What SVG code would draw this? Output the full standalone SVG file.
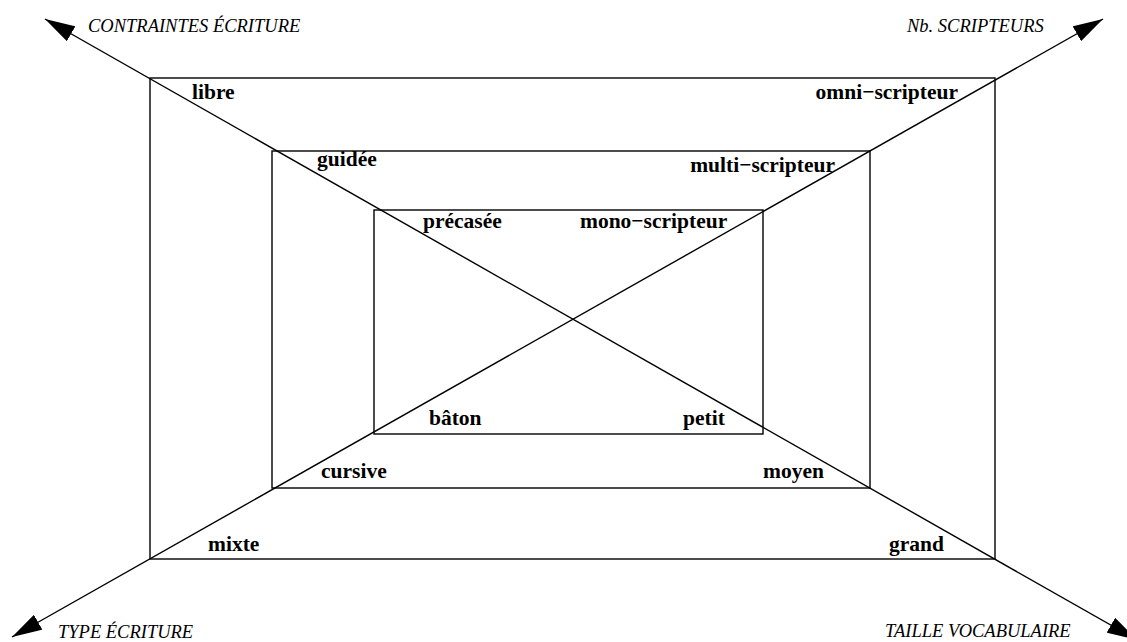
<svg xmlns="http://www.w3.org/2000/svg" width="1127" height="642" viewBox="0 0 1127 642">
<style>
.frame{fill:none;stroke:#000;stroke-width:1.4}
.axis{fill:none;stroke:#000;stroke-width:1.4}
.lbl{font-family:"Liberation Serif","Times New Roman",serif;font-weight:bold;font-size:21.5px;fill:#000}
.ax{font-family:"Liberation Serif","Times New Roman",serif;font-style:italic;font-size:18.5px;fill:#000}
</style>
<defs>
<marker id="arr" markerUnits="userSpaceOnUse" markerWidth="30" markerHeight="17" refX="30" refY="8.5" orient="auto-start-reverse" viewBox="0 0 30 17">
<path d="M0,0 L30,8.5 L0,17 z" fill="#000"/>
</marker>
</defs>
<rect width="1127" height="642" fill="#fff"/>
<g id="frames">
<rect id="outer" class="frame" x="150" y="78" width="845" height="481"/>
<rect id="middle" class="frame" x="272" y="151" width="598" height="337"/>
<rect id="inner" class="frame" x="374" y="210" width="389" height="224"/>
</g>
<g id="connectors">
<line class="axis" x1="45" y1="19" x2="1137" y2="640" marker-start="url(#arr)" marker-end="url(#arr)"/>
<line class="axis" x1="12" y1="637" x2="1103" y2="19" marker-start="url(#arr)" marker-end="url(#arr)"/>
</g>
<g id="axis-labels">
<text id="ax-contraintes" class="ax" x="88" y="32">CONTRAINTES ÉCRITURE</text>
<text id="ax-nb" class="ax" x="907" y="32">Nb. SCRIPTEURS</text>
<text id="ax-type" class="ax" x="58" y="638">TYPE ÉCRITURE</text>
<text id="ax-taille" class="ax" x="885" y="637">TAILLE VOCABULAIRE</text>
</g>
<g id="outer-labels">
<text class="lbl" x="192" y="99">libre</text>
<text class="lbl" x="958" y="99" text-anchor="end">omni−scripteur</text>
<text class="lbl" x="208" y="551">mixte</text>
<text class="lbl" x="889" y="551">grand</text>
</g>
<g id="middle-labels">
<text class="lbl" x="317" y="166">guidée</text>
<text class="lbl" x="835" y="172" text-anchor="end">multi−scripteur</text>
<text class="lbl" x="321" y="478">cursive</text>
<text class="lbl" x="763" y="478">moyen</text>
</g>
<g id="inner-labels">
<text class="lbl" x="423" y="228">précasée</text>
<text class="lbl" x="580" y="228">mono−scripteur</text>
<text class="lbl" x="429" y="425">bâton</text>
<text class="lbl" x="683" y="425">petit</text>
</g>
</svg>
